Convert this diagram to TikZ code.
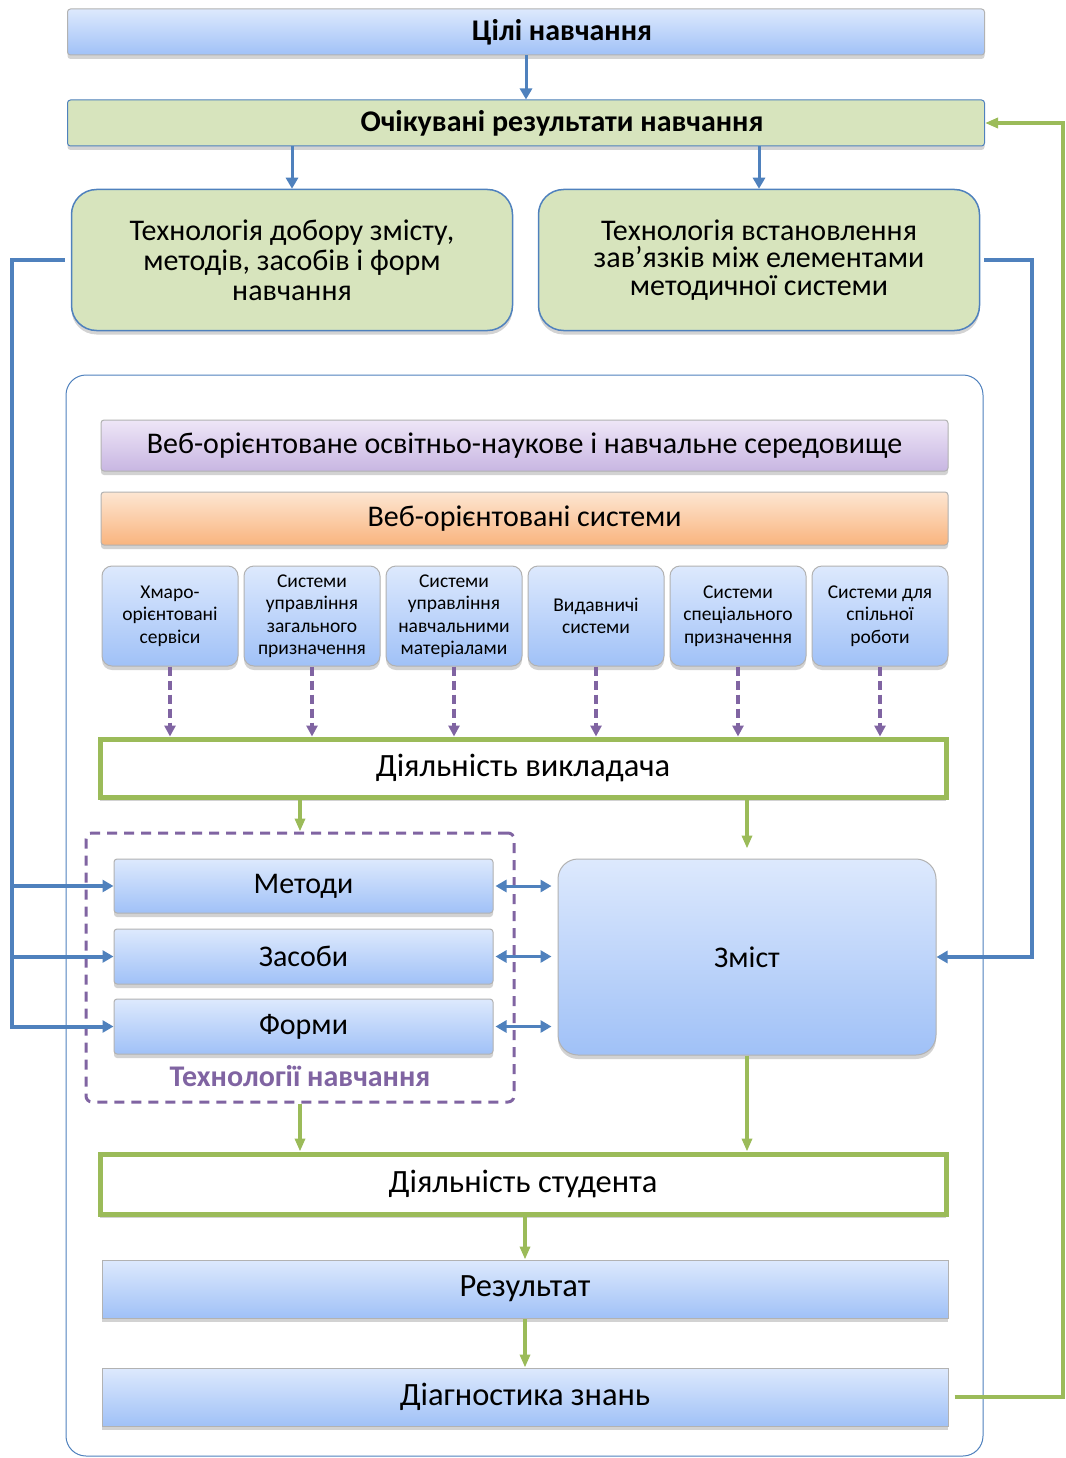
\documentclass[tikz,border=0pt]{standalone}
\usepackage{fontspec}
\setmainfont{Carlito}
\usetikzlibrary{arrows.meta,shadows,positioning}

\definecolor{lineblue}{RGB}{79,129,189}
\definecolor{linegreen}{RGB}{155,187,89}
\definecolor{linepurple}{RGB}{128,100,162}
\definecolor{fillgreen}{RGB}{215,228,189}
\definecolor{bluetop}{RGB}{221,233,253}
\definecolor{bluebot}{RGB}{160,193,247}
\definecolor{purpletop}{RGB}{238,230,247}
\definecolor{purplebot}{RGB}{200,182,226}
\definecolor{orangetop}{RGB}{253,230,210}
\definecolor{orangebot}{RGB}{249,180,126}

\begin{document}
\begin{tikzpicture}[x=1pt,y=-1pt]
	\tikzstyle{every node}=[font=\fontsize{30}{32}\selectfont]
	\tikzstyle{shade}=[drop shadow={shadow xshift=0pt,shadow yshift=-4pt,opacity=0.35}]
	\tikzstyle{bluebox}=[draw=gray!60, line width=1pt, top color=bluetop, bottom color=bluebot, rounded corners=3pt, shade]
	\tikzstyle{greenbox}=[draw=lineblue, line width=1.5pt, fill=fillgreen, rounded corners=25pt, shade, align=center]
	\tikzstyle{actbox}=[draw=linegreen, line width=5pt, fill=white, minimum width=846pt, minimum height=58pt, shade, font=\fontsize{32.5}{34}\selectfont]
	\tikzstyle{blueline}=[draw=lineblue, line width=4pt]
	\tikzstyle{bluearrow}=[blueline, -{Triangle[length=11pt,width=12pt]}]
	\tikzstyle{greenarrow}=[draw=linegreen, line width=3.5pt, -{Triangle[length=13pt,width=10pt]}]
	\useasboundingbox (0,0) rectangle (1065,1458);

	% top part
	\node [bluebox, minimum width=917pt, minimum height=46pt, font=\fontsize{30}{32}\selectfont\bfseries] (goals) at (526,32) {\hspace*{72pt}Цілі навчання};
	\node [bluebox, fill=fillgreen, top color=fillgreen, bottom color=fillgreen, draw=lineblue, minimum width=917pt, minimum height=46pt, font=\fontsize{30}{32}\selectfont\bfseries] (results) at (526,123) {\hspace*{72pt}Очікувані результати навчання};
	\node [greenbox, minimum width=441pt, minimum height=141pt, font=\fontsize{30}{30}\selectfont] (techL) at (292,260) {Технологія добору змісту,\\методів, засобів і форм\\навчання};
	\node [greenbox, minimum width=441pt, minimum height=141pt, font=\fontsize{30}{27.5}\selectfont] (techR) at (759,260) {Технологія встановлення\\зав’язків між елементами\\методичної системи};

	% frame
	\draw [lineblue, line width=1pt, fill=white, rounded corners=20pt] (66,375) rectangle (983,1456);

	\node [bluebox, top color=purpletop, bottom color=purplebot, minimum width=847pt, minimum height=51pt] (env) at (524.5,445.5) {Веб-орієнтоване освітньо-наукове і навчальне середовище};
	\node [bluebox, top color=orangetop, bottom color=orangebot, minimum width=847pt, minimum height=53pt] (websys) at (524.5,518.5) {Веб-орієнтовані системи};

	\node [actbox] (teacher) at (523,768) {Діяльність викладача};

	\foreach \i/\txt in {1/{Хмаро-\\орієнтовані\\сервіси},
		2/{Системи\\управління\\загального\\призначення},
		3/{Системи\\управління\\навчальними\\матеріалами},
		4/{Видавничі\\системи},
		5/{Системи\\спеціального\\призначення},
		6/{Системи для\\спільної\\роботи}} {
		\node [bluebox, rounded corners=10pt, minimum width=136pt, minimum height=100pt, align=center, font=\fontsize{19.5}{22.5}\selectfont] (sys\i) at (28+142*\i,616) {\txt};
		\draw [linepurple, line width=3.5pt, dash pattern=on 9pt off 5pt, -{Triangle[length=11pt,width=11pt]}] (sys\i.south) -- (sys\i.south |- teacher.north);
	}

	% technologies
	\node [draw=linepurple, line width=3pt, dash pattern=on 10pt off 7pt, rounded corners=6pt, minimum width=428pt, minimum height=269pt] (techfr) at (300,967.5) {};
	\node [bluebox, minimum width=379pt, minimum height=54pt] (methods) at (303.5,886) {Методи};
	\node [bluebox, minimum width=379pt, minimum height=55pt] (means) at (303.5,956.5) {Засоби};
	\node [bluebox, minimum width=379pt, minimum height=55pt] (forms) at (303.5,1026.5) {Форми};
	\node [text=linepurple, font=\fontsize{30}{32}\selectfont\bfseries] (techlbl) at (300,1076) {Технології навчання};
	\node [bluebox, rounded corners=20pt, minimum width=378pt, minimum height=196pt] (content) at (747,957) {Зміст};

	\node [actbox, minimum height=60pt] (student) at (523,1184) {Діяльність студента};
	\node [bluebox, rounded corners=0pt, minimum width=846pt, minimum height=58pt, font=\fontsize{32.5}{34}\selectfont] (result) at (525,1289) {Результат};
	\node [bluebox, rounded corners=0pt, minimum width=846pt, minimum height=58pt, font=\fontsize{32.5}{34}\selectfont] (diag) at (525,1397) {Діагностика знань};

	\coordinate (lbus) at (12,0);
	\coordinate (rbus) at (1032,0);
	\coordinate (gbus) at (1063,0);

	% blue connectors
	\draw [bluearrow, line width=3pt] (goals.south) -- (results.north);
	\draw [bluearrow, line width=3pt] (techL.north |- results.south) -- (techL.north);
	\draw [bluearrow, line width=3pt] (techR.north |- results.south) -- (techR.north);
	\draw [bluearrow, shorten <=6pt] (techL.west) -- (lbus |- techL.west) -- (lbus |- forms.west) -- (forms.west);
	\draw [bluearrow] (lbus |- methods.west) -- (methods.west);
	\draw [bluearrow] (lbus |- means.west) -- (means.west);
	\draw [bluearrow, shorten <=4pt] (techR.east) -- (rbus |- techR.east) -- (rbus |- content.east) -- (content.east);
	\foreach \n in {methods,means,forms}
		\draw [bluearrow, line width=3pt, {Triangle[length=11pt,width=12pt]}-{Triangle[length=11pt,width=12pt]}, shorten <=2pt, shorten >=6pt] (\n.east) -- (\n.east -| content.west);

	% green connectors
	\draw [greenarrow] (techfr.north |- teacher.south) -- (techfr.north);
	\draw [greenarrow, shorten >=10pt] (content.north |- teacher.south) -- (content.north);
	\draw [greenarrow] (techfr.south) -- (techfr.south |- student.north);
	\draw [greenarrow] (content.south) -- (content.south |- student.north);
	\draw [greenarrow] (result.north |- student.south) -- (result.north);
	\draw [greenarrow] (result.south) -- (diag.north);
	\draw [greenarrow, shorten <=6pt] (diag.east) -- (gbus |- diag.east) -- (gbus |- results.east) -- (results.east);
\end{tikzpicture}
\end{document}
